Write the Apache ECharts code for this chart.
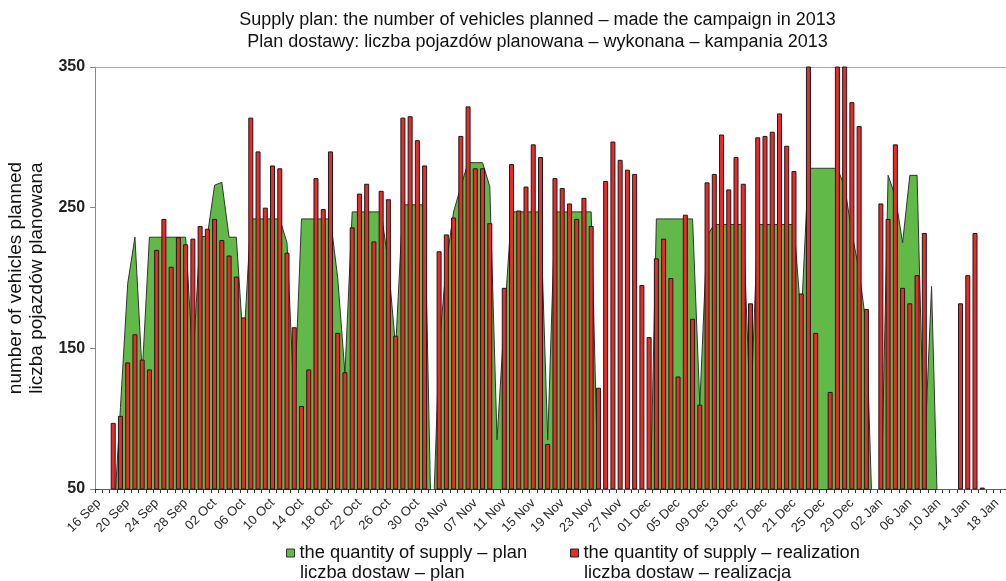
<!DOCTYPE html>
<html>
<head>
<meta charset="utf-8">
<script src="https://cdn.jsdelivr.net/npm/echarts/dist/echarts.min.js"></script>
<style>
html,body{margin:0;padding:0;background:#fff;}
#chart{width:1006px;height:581px;}
</style>
</head>
<body>
<div id="chart"></div>
<script>
var categories = [
 "16 Sep","17 Sep","18 Sep","19 Sep","20 Sep","21 Sep","22 Sep","23 Sep","24 Sep","25 Sep","26 Sep","27 Sep","28 Sep","29 Sep","30 Sep",
 "01 Oct","02 Oct","03 Oct","04 Oct","05 Oct","06 Oct","07 Oct","08 Oct","09 Oct","10 Oct","11 Oct","12 Oct","13 Oct","14 Oct","15 Oct","16 Oct","17 Oct","18 Oct","19 Oct","20 Oct","21 Oct","22 Oct","23 Oct","24 Oct","25 Oct","26 Oct","27 Oct","28 Oct","29 Oct","30 Oct","31 Oct",
 "01 Nov","02 Nov","03 Nov","04 Nov","05 Nov","06 Nov","07 Nov","08 Nov","09 Nov","10 Nov","11 Nov","12 Nov","13 Nov","14 Nov","15 Nov","16 Nov","17 Nov","18 Nov","19 Nov","20 Nov","21 Nov","22 Nov","23 Nov","24 Nov","25 Nov","26 Nov","27 Nov","28 Nov","29 Nov","30 Nov",
 "01 Dec","02 Dec","03 Dec","04 Dec","05 Dec","06 Dec","07 Dec","08 Dec","09 Dec","10 Dec","11 Dec","12 Dec","13 Dec","14 Dec","15 Dec","16 Dec","17 Dec","18 Dec","19 Dec","20 Dec","21 Dec","22 Dec","23 Dec","24 Dec","25 Dec","26 Dec","27 Dec","28 Dec","29 Dec","30 Dec","31 Dec",
 "01 Jan","02 Jan","03 Jan","04 Jan","05 Jan","06 Jan","07 Jan","08 Jan","09 Jan","10 Jan","11 Jan","12 Jan","13 Jan","14 Jan","15 Jan","16 Jan","17 Jan","18 Jan","19 Jan"
];

// plan (green area)
var planValues = [
 0,0,20,108,196,229,132,229,229,229,229,229,229,140,229,
 230,266,268,229,229,150,242,242,242,242,242,225,110,242,242,242,242,242,200,132,247,247,247,247,247,210,150,252,252,252,252,
 0,150,210,247,265,282,282,282,265,85,170,247,247,247,247,247,85,247,247,247,247,247,247,40,0,0,0,0,0,0,
 0,242,242,242,242,242,242,110,230,238,238,238,238,238,100,238,238,238,238,238,238,170,278,278,278,278,278,265,232,205,165,
 0,30,273,258,225,273,273,70,194,0,0,0,0,0,0,0,0,0,0
];

// realization (red bars)
var realValues = [
 50,50,97,102,140,160,142,135,220,242,208,229,224,228,237,
 235,242,227,216,201,172,314,290,250,280,278,218,165,109,135,271,249,290,161,133,236,260,267,226,262,256,159,314,315,298,280,
 50,219,231,243,301,322,278,278,239,50,193,281,248,265,295,286,82,271,264,253,242,257,237,122,269,297,284,277,274,195,
 158,214,228,200,130,245,171,110,268,274,302,263,286,267,182,300,301,304,317,294,276,189,370,161,50,119,370,370,325,308,178,
 50,253,242,295,193,182,202,232,50,50,50,50,182,202,232,51,50,50,50
];

var yTicks = [50, 150, 250, 350];

var titleLines = [
 "Supply plan: the number of vehicles planned \u2013 made the campaign in 2013",
 "Plan dostawy: liczba pojazd\u00f3w planowana \u2013 wykonana \u2013 kampania 2013"
];
var yNameLines = ["number of vehicles planned", "liczba pojazd\u00f3w planowana"];
var planName = "the quantity of supply \u2013 plan";
var planName2 = "liczba dostaw \u2013 plan";
var realName = "the quantity of supply \u2013 realization";
var realName2 = "liczba dostaw \u2013 realizacja";

var FONT = "'Liberation Sans', Arial, sans-serif";
var GREEN = "#61b947";
var RED = "#eb2a2a";

var chart = echarts.init(document.getElementById('chart'), null, {renderer: 'canvas'});
chart.setOption({
  animation: false,
  backgroundColor: '#ffffff',
  textStyle: {fontFamily: FONT},
  title: {
    text: titleLines.join('\n'),
    left: 537.5, top: 9, padding: 0, textAlign: 'center',
    textStyle: {fontSize: 18, fontWeight: 'normal', color: '#111', lineHeight: 22, fontFamily: FONT}
  },
  grid: {left: 95.1, top: 67, width: 912.5, height: 422, containLabel: false, outerBoundsMode: 'none'},
  legend: [
    {left: 286, top: 543, padding: 0, itemWidth: 8, itemHeight: 8, icon: 'rect',
     textStyle: {fontSize: 18.3, color: '#111', fontFamily: FONT, lineHeight: 20},
     data: [{name: planName, icon: 'rect', itemStyle: {color: GREEN, borderColor: '#333', borderWidth: 1}}]},
    {left: 570, top: 543, padding: 0, itemWidth: 8, itemHeight: 8, icon: 'rect',
     textStyle: {fontSize: 18.3, color: '#111', fontFamily: FONT, lineHeight: 20},
     data: [{name: realName, icon: 'rect', itemStyle: {color: RED, borderColor: '#222', borderWidth: 1}}]}
  ],
  graphic: [
    {type: 'text', x: 300, y: 573, style: {text: planName2, fill: '#111', font: '18.3px ' + FONT, verticalAlign: 'middle'}},
    {type: 'text', x: 584, y: 573, style: {text: realName2, fill: '#111', font: '18.3px ' + FONT, verticalAlign: 'middle'}}
  ],
  xAxis: [
    {type: 'category', data: categories, boundaryGap: true,
     axisLine: {lineStyle: {color: '#333', width: 1}},
     axisTick: {show: true, interval: 0, length: 4, lineStyle: {color: '#333'}},
     axisLabel: {interval: 3, rotate: 45, fontSize: 13, color: '#2a2a2a', margin: 12, fontFamily: FONT},
     splitLine: {show: false}},
    {type: 'category', data: categories, position: 'top', boundaryGap: true,
     axisLine: {show: true, lineStyle: {color: '#aaa', width: 1}},
     axisTick: {show: false}, axisLabel: {show: false}, splitLine: {show: false}}
  ],
  yAxis: {
    type: 'value', min: yTicks[0], max: yTicks[yTicks.length - 1], interval: 100,
    axisLine: {show: true, lineStyle: {color: '#888'}},
    axisTick: {show: true, length: 5, lineStyle: {color: '#888'}},
    splitLine: {show: false},
    axisLabel: {fontSize: 16, fontWeight: 'bold', color: '#222', margin: 10, fontFamily: FONT},
    name: yNameLines.join('\n'), nameLocation: 'middle', nameGap: 46,
    nameTextStyle: {fontSize: 19, lineHeight: 21, color: '#111', fontFamily: FONT}
  },
  series: [
    {name: planName, type: 'line', data: planValues, symbol: 'none', smooth: false,
     lineStyle: {color: '#333', width: 1}, itemStyle: {color: GREEN},
     areaStyle: {color: GREEN, opacity: 1}, z: 1, silent: true},
    {name: realName, type: 'bar', data: realValues, barWidth: 5,
     itemStyle: {color: RED, borderColor: '#1a1a1a', borderWidth: 1}, z: 2}
  ]
});
</script>
</body>
</html>
